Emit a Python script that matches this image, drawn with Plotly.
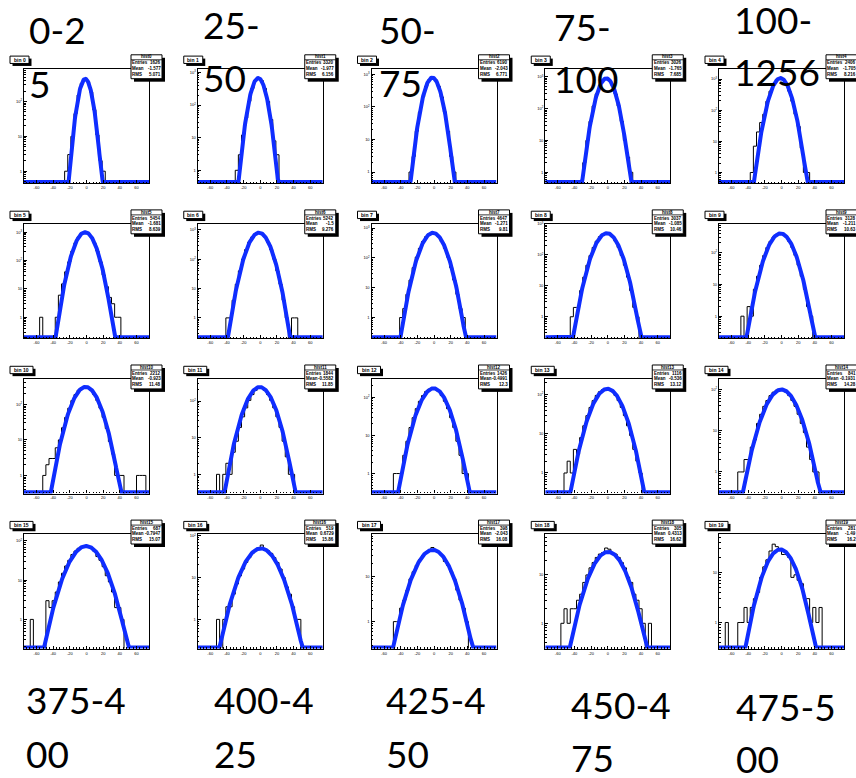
import math
import plotly.graph_objects as go

FIG_W, FIG_H = 856, 778

# ---------------- data ----------------
panel_titles = ["bin %d" % i for i in range(20)]
hist_names = ["hist%d" % i for i in range(20)]
stat_entries = ["1626", "3320", "6190", "3026", "2406",
                "5454", "5242", "4647", "3037", "3128",
                "2212", "1844", "1426", "1116", "841",
                "687", "519", "398", "305", "281"]
stat_mean = ["-1.577", "-1.977", "-2.043", "-1.765", "-1.705",
             "-1.681", "-1.5", "-1.271", "-1.085", "-1.211",
             "-0.923", "-0.5582", "-0.4991", "-0.536", "-0.1931",
             "-0.7947", "0.6729", "-2.043", "0.4313", "-1.49"]
stat_rms = ["5.071", "6.156", "6.771", "7.685", "8.216",
            "8.639", "9.276", "9.81", "10.46", "10.63",
            "11.48", "11.85", "12.3", "13.12", "14.28",
            "15.07", "15.86", "16.08", "16.62", "16.2"]

x_low, x_high, n_bins = -75.0, 75.0, 40
hist_first_bin = [13, 12, 12, 12, 10, 5, 9, 9, 8, 7, 6, 6, 7, 6, 6, 2, 6, 7, 5, 2]
hist_counts = [
    [1, 3, 10, 45, 154, 332, 445, 366, 186, 58, 11, 2, 1],
    [1, 3, 12, 40, 130, 322, 558, 670, 558, 322, 129, 36, 8, 3],
    [1, 3, 18, 70, 204, 435, 687, 800, 687, 435, 204, 70, 18, 3, 1],
    [2, 10, 40, 122, 292, 546, 794, 900, 794, 546, 292, 122, 40, 10, 3, 1],
    [1, 7, 20, 40, 74, 193, 408, 697, 962, 1070, 962, 697, 408, 193, 74, 30, 6, 1, 1],
    [1, 0, 0, 0, 0, 1, 6, 15, 40, 90, 215, 421, 681, 908, 1000, 908, 681, 421, 215, 90, 31, 12, 5, 3, 1, 1],
    [1, 1, 4, 14, 40, 100, 212, 379, 574, 736, 800, 736, 574, 379, 212, 100, 40, 14, 4, 1, 0, 1, 1],
    [1, 2, 6, 18, 47, 106, 209, 352, 512, 640, 690, 640, 512, 352, 209, 106, 47, 18, 6, 2, 1],
    [1, 2, 2, 7, 19, 46, 95, 173, 275, 384, 468, 500, 468, 384, 275, 173, 95, 46, 19, 7, 2, 1],
    [1, 0, 2, 1, 7, 18, 40, 81, 144, 225, 310, 375, 400, 375, 310, 225, 144, 81, 40, 18, 7, 2, 1],
    [1, 2, 3, 3, 6, 10, 22, 43, 78, 128, 189, 249, 293, 310, 293, 249, 189, 128, 78, 43, 21, 9, 4, 1, 1, 1, 0, 0, 0, 0, 1, 1, 1],
    [1, 0, 1, 2, 1, 4, 8, 19, 37, 65, 104, 150, 195, 240, 228, 195, 150, 104, 65, 37, 19, 8, 3, 1, 1],
    [1, 1, 1, 3, 7, 16, 29, 50, 78, 110, 140, 162, 170, 162, 140, 110, 78, 50, 29, 16, 7, 3, 1, 1],
    [1, 2, 1, 4, 3, 8, 16, 29, 47, 70, 95, 118, 134, 140, 134, 118, 95, 70, 47, 29, 16, 9, 4, 2, 1],
    [1, 1, 2, 2, 4, 6, 15, 25, 39, 54, 71, 86, 96, 100, 96, 86, 71, 54, 39, 25, 15, 9, 4, 2, 1, 1],
    [1, 0, 0, 0, 0, 3, 2, 3, 5, 9, 15, 23, 32, 45, 55, 65, 72, 74, 72, 65, 55, 40, 32, 22, 13, 9, 5, 2, 2, 1],
    [1, 0, 1, 2, 2, 4, 7, 11, 16, 23, 30, 38, 44, 52, 60, 48, 44, 38, 30, 23, 16, 10, 6, 4, 2, 1, 1],
    [1, 1, 2, 3, 5, 9, 13, 18, 24, 30, 35, 39, 45, 39, 35, 30, 22, 18, 13, 9, 5, 3, 2, 1],
    [1, 2, 1, 2, 2, 3, 4, 7, 10, 14, 18, 23, 27, 29, 36, 34, 28, 27, 23, 18, 14, 9, 7, 4, 3, 2, 1, 0, 1],
    [1, 0, 0, 0, 1, 1, 2, 1, 2, 3, 4, 8, 13, 18, 27, 37, 33, 30, 23, 23, 20, 8, 9, 7, 6, 3, 3, 1, 2, 1, 2],
]
fit_amp = [445, 670, 800, 900, 1070, 1000, 800, 690, 500, 400,
           310, 240, 170, 140, 100, 74, 50, 40, 30, 29]
fit_mean = [-1.5, -2.4, -2.0, -1.7, -1.3, -1.7, -1.5, -1.3, -1.1, -1.2,
            -1.0, -0.6, -0.5, -0.5, -0.2, -0.5, 0.7, -1.5, 0.4, -1.5]
fit_sigma = [5.4, 6.2, 6.8, 7.5, 8.1, 8.55, 9.2, 9.7, 10.3, 10.5,
             11.3, 11.6, 12.0, 12.7, 13.6, 14.6, 15.0, 15.0, 15.2, 13.9]
y_min = [0.45, 0.4, 0.45, 0.45, 0.45, 0.18, 0.2, 0.2, 0.2, 0.2,
         0.31, 0.3, 0.3, 0.3, 0.3, 0.18, 0.2, 0.25, 0.3, 0.3]
y_max = [870, 1290, 1500, 1800, 2140, 1960, 1600, 1380, 1000, 800,
         520, 400, 300, 250, 180, 150, 110, 90, 70, 59]

x_tick_vals = [-60, -40, -20, 0, 20, 40, 60]
x_tick_text = ["-60", "-40", "-20", "0", "20", "40", "60"]
y_tick_vals = [1, 10, 100, 1000]
y_tick_text = ["1", "10", "10<sup>2</sup>", "10<sup>3</sup>"]

top_labels = [("0-2", "5"), ("25-", "50"), ("50-", "75"), ("75-", "100"), ("100-", "1256")]
bottom_labels = [("375-4", "00"), ("400-4", "25"), ("425-4", "50"), ("450-4", "75"), ("475-5", "00")]

# ---------------- layout geometry (pixels) ----------------
top_label_pos = [(28, 27, 81), (202, 22, 75), (378, 27, 80), (553, 24, 76), (733, 17, 69)]
bottom_label_pos = [(25, 699, 753), (213, 699, 753), (385, 699, 753), (570, 704, 757), (735, 706, 758)]
BLUE = "rgb(15,45,255)"
STAT_FONT = dict(family="Liberation Sans", size=4.5, color="black")
TITLE_FONT = dict(family="Liberation Sans", size=5, color="black")
BIG_FONT = dict(family="Lato", size=37, color="black")


def px(x):
    return x / FIG_W


def py(y):
    return 1 - y / FIG_H


fig = go.Figure()
shapes = []
annotations = []
layout_axes = {}

bw = (x_high - x_low) / n_bins
edges = [x_low + bw * i for i in range(n_bins + 1)]
fit_x = [x_low + 0.5 * i for i in range(int((x_high - x_low) / 0.5) + 1)]

minor_y_all = []
for dec in [0.1, 1, 10, 100, 1000]:
    for m in range(2, 10):
        minor_y_all.append(dec * m)

for k in range(20):
    r, c = divmod(k, 5)
    L = 24 + 173.75 * c
    T = 66 + 155.7 * r
    Wp, Hp = 125, 115
    R = L + Wp
    sfx = "" if k == 0 else str(k + 1)

    counts = [0] * hist_first_bin[k] + hist_counts[k]
    counts = counts + [0] * (n_bins - len(counts))
    ylo, yhi = math.log10(y_min[k]), math.log10(y_max[k])
    tiny = 10 ** (ylo - 3)
    ys = [v if v > 0 else tiny for v in counts]
    fig.add_trace(go.Scatter(
        x=edges, y=ys + [ys[-1]], mode="lines",
        line=dict(color="black", width=1, shape="hv"),
        xaxis="x" + sfx, yaxis="y" + sfx, showlegend=False, hoverinfo="skip"))

    floor = 10 ** (ylo + (yhi - ylo) * 1.2 / Hp)
    fy = []
    for x in fit_x:
        v = fit_amp[k] * math.exp(-(x - fit_mean[k]) ** 2 / (2 * fit_sigma[k] ** 2))
        fy.append(max(v, floor))
    fig.add_trace(go.Scatter(
        x=fit_x, y=fy, mode="lines", line=dict(color=BLUE, width=4),
        xaxis="x" + sfx, yaxis="y" + sfx, showlegend=False, hoverinfo="skip"))

    yt = [(v, t) for v, t in zip(y_tick_vals, y_tick_text) if y_min[k] <= v <= y_max[k]]
    minor_y = [v for v in minor_y_all if y_min[k] <= v <= y_max[k]]

    layout_axes["xaxis" + sfx] = dict(
        domain=[px(L), px(R)], range=[x_low, x_high], anchor="y" + sfx,
        showline=True, mirror=True, linecolor="black", linewidth=1.2,
        ticks="inside", ticklen=3, tickwidth=0.8, tickcolor="black",
        tickmode="array", tickvals=x_tick_vals, ticktext=x_tick_text,
        tickfont=dict(size=4, family="Liberation Sans", color="black"),
        showgrid=False, zeroline=False,
        minor=dict(ticks="inside", ticklen=1.5, dtick=4, tick0=0, tickcolor="black", showgrid=False))
    layout_axes["yaxis" + sfx] = dict(
        domain=[py(T + Hp), py(T)], type="log", range=[ylo, yhi], anchor="x" + sfx,
        showline=True, mirror=True, linecolor="black", linewidth=1.2,
        ticks="inside", ticklen=3, tickwidth=0.8, tickcolor="black",
        tickmode="array", tickvals=[v for v, t in yt], ticktext=[t for v, t in yt],
        tickfont=dict(size=4, family="Liberation Sans", color="black"),
        showgrid=False, zeroline=False,
        minor=dict(ticks="inside", ticklen=1.5, tickvals=minor_y, tickcolor="black", showgrid=False))

    # title box "bin N"
    tw = 19 if k < 10 else 23
    tb = (L - 14, T - 12.7, L - 14 + tw, T - 5.3)
    shapes.append(dict(type="rect", xref="paper", yref="paper",
                       x0=px(tb[0] + 2.5), x1=px(tb[2] + 2.5), y0=py(tb[3] + 2.5), y1=py(tb[1] + 2.5),
                       fillcolor="black", line=dict(width=0)))
    shapes.append(dict(type="rect", xref="paper", yref="paper",
                       x0=px(tb[0]), x1=px(tb[2]), y0=py(tb[3]), y1=py(tb[1]),
                       fillcolor="white", line=dict(color="black", width=1)))
    annotations.append(dict(text="<b>" + panel_titles[k] + "</b>", xref="paper", yref="paper",
                            x=px((tb[0] + tb[2]) / 2), y=py((tb[1] + tb[3]) / 2),
                            showarrow=False, xanchor="center", yanchor="middle",
                            font=TITLE_FONT, borderpad=0))

    # stat box
    sb = (R - 18, T - 14, R + 13, T + 10)
    shapes.append(dict(type="rect", xref="paper", yref="paper",
                       x0=px(sb[0] + 3), x1=px(sb[2] + 3), y0=py(sb[3] + 3), y1=py(sb[1] + 3),
                       fillcolor="black", line=dict(width=0)))
    shapes.append(dict(type="rect", xref="paper", yref="paper",
                       x0=px(sb[0]), x1=px(sb[2]), y0=py(sb[3]), y1=py(sb[1]),
                       fillcolor="white", line=dict(color="black", width=1)))
    shapes.append(dict(type="line", xref="paper", yref="paper",
                       x0=px(sb[0]), x1=px(sb[2]), y0=py(T - 9), y1=py(T - 9),
                       line=dict(color="black", width=0.8)))
    annotations.append(dict(text="<b>" + hist_names[k] + "</b>", xref="paper", yref="paper",
                            x=px((sb[0] + sb[2]) / 2), y=py(T - 11.8),
                            showarrow=False, xanchor="center", yanchor="middle",
                            font=STAT_FONT, borderpad=0))
    rows = [("Entries", stat_entries[k], T - 5.8), ("Mean", stat_mean[k], T - 0.3),
            ("RMS", stat_rms[k], T + 5.6)]
    for lab, val, yy in rows:
        annotations.append(dict(text="<b>" + lab + "</b>", xref="paper", yref="paper",
                                x=px(sb[0] + 0.3), y=py(yy), showarrow=False,
                                xanchor="left", yanchor="middle", font=STAT_FONT, borderpad=0))
        annotations.append(dict(text="<b>" + val + "</b>", xref="paper", yref="paper",
                                x=px(sb[2] - 0.3), y=py(yy), showarrow=False,
                                xanchor="right", yanchor="middle", font=STAT_FONT, borderpad=0))

# big overlay labels
for (l1, l2), (x0, y1, y2) in zip(top_labels, top_label_pos):
    for txt, yy in ((l1, y1), (l2, y2)):
        annotations.append(dict(text=txt, xref="paper", yref="paper", x=px(x0), y=py(yy),
                                showarrow=False, xanchor="left", yanchor="middle",
                                font=BIG_FONT, borderpad=0))
for (l1, l2), (x0, y1, y2) in zip(bottom_labels, bottom_label_pos):
    for txt, yy in ((l1, y1), (l2, y2)):
        annotations.append(dict(text=txt, xref="paper", yref="paper", x=px(x0), y=py(yy),
                                showarrow=False, xanchor="left", yanchor="middle",
                                font=BIG_FONT, borderpad=0))

fig.update_layout(
    width=FIG_W, height=FIG_H, margin=dict(l=0, r=0, t=0, b=0),
    paper_bgcolor="white", plot_bgcolor="white", showlegend=False,
    hovermode=False, shapes=shapes, annotations=annotations, **layout_axes)

fig.write_html("out.html", config={"displayModeBar": False},
               post_script="document.body.style.margin='0';document.body.style.overflow='hidden';")
